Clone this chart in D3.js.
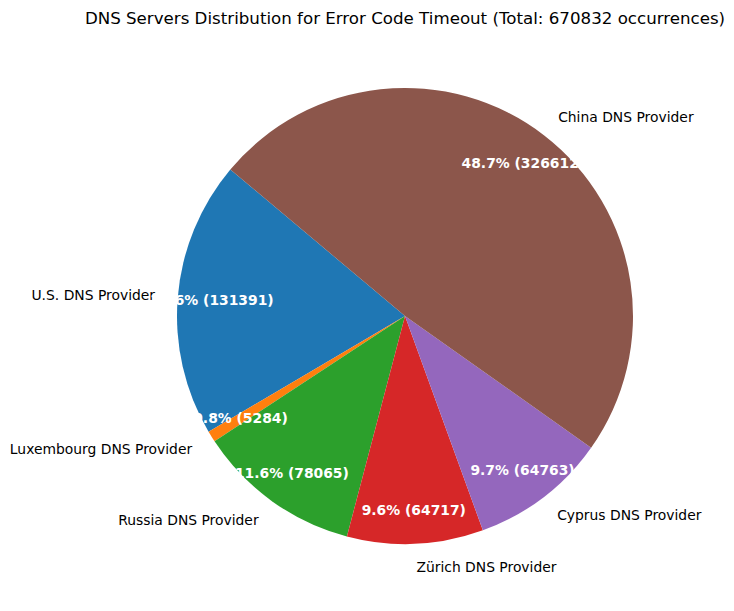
<!DOCTYPE html>
<html>
<head>
<meta charset="utf-8">
<script src="https://cdn.jsdelivr.net/npm/d3@7"></script>
<style>
  body { margin: 0; background: #fff; }
  text { font-family: "DejaVu Sans", sans-serif; }
</style>
</head>
<body>
<svg id="chart" width="734" height="611"></svg>
<script>
const categories = ["U.S. DNS Provider", "Luxembourg DNS Provider", "Russia DNS Provider", "Zürich DNS Provider", "Cyprus DNS Provider", "China DNS Provider"];
const values = [131391, 5284, 78065, 64717, 64763, 326612];
const colors = ["#1f77b4", "#ff7f0e", "#2ca02c", "#d62728", "#9467bd", "#8c564b"];
const titleText = "DNS Servers Distribution for Error Code Timeout (Total: 670832 occurrences)";

const W = 734, H = 611;
const cx = 405, cy = 316, R = 228;
const startDeg = 140;
const total = d3.sum(values);

const svg = d3.select("#chart");
svg.append("text")
  .attr("x", cx).attr("y", 18)
  .attr("text-anchor", "middle")
  .attr("dominant-baseline", "central")
  .attr("font-size", 16.67)
  .attr("fill", "#000")
  .text(titleText);

const toRad = d => d * Math.PI / 180;
// matplotlib counterclockwise from startangle -> d3 (clockwise from 12 o'clock)
const pie = d3.pie().sort(null)
  .startAngle(toRad(90 - startDeg))
  .endAngle(toRad(90 - startDeg - 360));
const arcs = pie(values);
const arc = d3.arc().innerRadius(0).outerRadius(R);

const g = svg.append("g").attr("transform", `translate(${cx},${cy})`);
g.selectAll("path.slice").data(arcs).enter().append("path")
  .attr("class", "slice")
  .attr("d", arc)
  .attr("fill", (d, i) => colors[i]);

function pos(d, f) {
  const a = (d.startAngle + d.endAngle) / 2; // d3 angle
  return [Math.sin(a) * R * f, -Math.cos(a) * R * f];
}

g.selectAll("text.lbl").data(arcs).enter().append("text")
  .attr("class", "lbl")
  .attr("x", d => pos(d, 1.1)[0])
  .attr("y", d => pos(d, 1.1)[1])
  .attr("text-anchor", d => pos(d, 1.1)[0] > 0 ? "start" : "end")
  .attr("dominant-baseline", "central")
  .attr("font-size", 13.89)
  .attr("fill", "#000")
  .text((d, i) => categories[i]);

g.selectAll("text.pct").data(arcs).enter().append("text")
  .attr("class", "pct")
  .attr("x", d => pos(d, 0.85)[0])
  .attr("y", d => pos(d, 0.85)[1])
  .attr("text-anchor", "middle")
  .attr("dominant-baseline", "central")
  .attr("font-size", 13.89)
  .attr("font-weight", "bold")
  .attr("fill", "#fff")
  .text((d, i) => `${(values[i] / total * 100).toFixed(1)}% (${values[i]})`);
</script>
</body>
</html>
